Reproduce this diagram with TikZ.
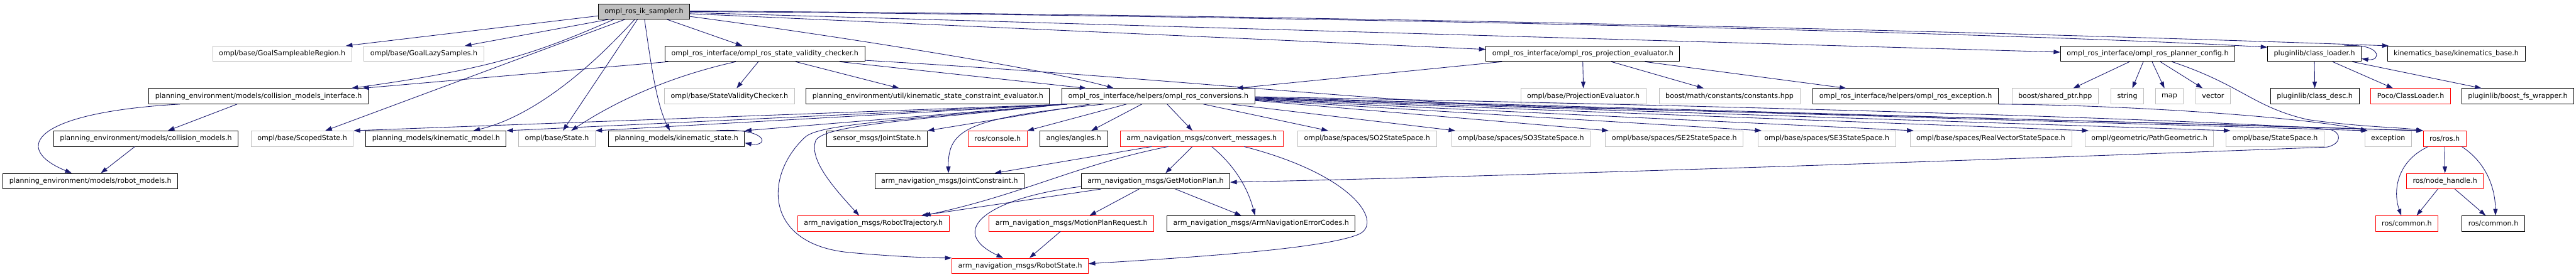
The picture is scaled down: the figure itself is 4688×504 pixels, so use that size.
\documentclass[tikz,border=0pt]{standalone}
\usepackage{fontspec}
\setmainfont{DejaVu Sans}
\usepackage{xcolor}
\usepackage{tikz}
\usetikzlibrary{arrows.meta}
\definecolor{edgeblue}{HTML}{191970}
\definecolor{grey75}{HTML}{BFBFBF}

\begin{document}
\begin{tikzpicture}[x=1pt,y=-1pt,font=\fontsize{12.7}{15}\selectfont,
    filebox/.style={draw,rectangle,minimum height=28pt,inner xsep=11.5pt,inner ysep=0pt,line width=1pt,text=black},
    docfile/.style={filebox,draw=black},
    extfile/.style={filebox,draw=grey75},
    cutfile/.style={filebox,draw=red},
    incl/.style={draw=edgeblue,line width=1pt,-{Triangle[length=12pt,width=8pt]}}]
    \useasboundingbox (0,0) rectangle (4688,504);

    \node[docfile,fill=grey75] (ik) at (1172,21) {ompl\_ros\_ik\_sampler.h};

    \node[extfile] (gsr) at (513.5,98) {ompl/base/GoalSampleableRegion.h};
    \node[extfile] (gls) at (771.5,98) {ompl/base/GoalLazySamples.h};
    \node[docfile] (svc) at (1392,98) {ompl\_ros\_interface/ompl\_ros\_state\_validity\_checker.h};
    \node[docfile] (proj) at (2880.5,98) {ompl\_ros\_interface/ompl\_ros\_projection\_evaluator.h};
    \node[docfile] (planner) at (3908.5,98) {ompl\_ros\_interface/ompl\_ros\_planner\_config.h};
    \node[docfile] (cloader) at (4212,98) {pluginlib/class\_loader.h};
    \node[docfile] (kbase) at (4470,98) {kinematics\_base/kinematics\_base.h};

    \node[docfile] (cmi) at (470.5,175.3) {planning\_environment/models/collision\_models\_interface.h};
    \node[extfile] (svcheck) at (1327.5,175.3) {ompl/base/StateValidityChecker.h};
    \node[docfile] (kscev) at (1688.5,175.3) {planning\_environment/util/kinematic\_state\_constraint\_evaluator.h};
    \node[docfile] (conv) at (2108,175.3) {ompl\_ros\_interface/helpers/ompl\_ros\_conversions.h};
    \node[extfile] (projeval) at (2881.5,175.3) {ompl/base/ProjectionEvaluator.h};
    \node[extfile] (bmath) at (3147.5,175.3) {boost/math/constants/constants.hpp};
    \node[docfile] (rosexc) at (3468,175.3) {ompl\_ros\_interface/helpers/ompl\_ros\_exception.h};
    \node[extfile] (sptr) at (3740,175.3) {boost/shared\_ptr.hpp};
    \node[extfile] (stringh) at (3871.5,175.3) {string};
    \node[extfile] (maph) at (3948,175.3) {map};
    \node[extfile] (vectorh) at (4027.5,175.3) {vector};
    \node[docfile] (cdesc) at (4212.5,175.3) {pluginlib/class\_desc.h};
    \node[cutfile] (poco) at (4387,175.3) {Poco/ClassLoader.h};
    \node[docfile] (bfs) at (4582,175.3) {pluginlib/boost\_fs\_wrapper.h};

    \node[docfile] (cmodels) at (265.5,252.6) {planning\_environment/models/collision\_models.h};
    \node[extfile] (scoped) at (550,252.6) {ompl/base/ScopedState.h};
    \node[docfile] (kmodel) at (793.5,252.6) {planning\_models/kinematic\_model.h};
    \node[extfile] (state) at (1013.5,252.6) {ompl/base/State.h};
    \node[docfile] (kstate) at (1231,252.6) {planning\_models/kinematic\_state.h};
    \node[docfile] (jstate) at (1596,252.6) {sensor\_msgs/JointState.h};
    \node[cutfile] (console) at (1815.5,252.6) {ros/console.h};
    \node[docfile] (angles) at (1954,252.6) {angles/angles.h};
    \node[cutfile] (convmsg) at (2187,252.6) {arm\_navigation\_msgs/convert\_messages.h};
    \node[extfile] (so2) at (2488,252.6) {ompl/base/spaces/SO2StateSpace.h};
    \node[extfile] (so3) at (2768,252.6) {ompl/base/spaces/SO3StateSpace.h};
    \node[extfile] (se2) at (3047,252.6) {ompl/base/spaces/SE2StateSpace.h};
    \node[extfile] (se3) at (3324.5,252.6) {ompl/base/spaces/SE3StateSpace.h};
    \node[extfile] (realvec) at (3623,252.6) {ompl/base/spaces/RealVectorStateSpace.h};
    \node[extfile] (pathgeo) at (3911.5,252.6) {ompl/geometric/PathGeometric.h};
    \node[extfile] (sspace) at (4140.5,252.6) {ompl/base/StateSpace.h};
    \node[extfile] (exc) at (4346,252.6) {exception};
    \node[cutfile] (rosh) at (4449,252.6) {ros/ros.h};

    \node[docfile] (robmodels) at (164.5,330) {planning\_environment/models/robot\_models.h};
    \node[docfile] (jconstr) at (1728,330) {arm\_navigation\_msgs/JointConstraint.h};
    \node[docfile] (getmp) at (2103,330) {arm\_navigation\_msgs/GetMotionPlan.h};
    \node[cutfile] (nodeh) at (4449.5,330) {ros/node\_handle.h};

    \node[cutfile] (rtraj) at (1589.5,407.2) {arm\_navigation\_msgs/RobotTrajectory.h};
    \node[cutfile] (mpreq) at (1950,407.2) {arm\_navigation\_msgs/MotionPlanRequest.h};
    \node[docfile] (errcodes) at (2295,407.2) {arm\_navigation\_msgs/ArmNavigationErrorCodes.h};
    \node[cutfile] (common1) at (4380,407.2) {ros/common.h};
    \node[docfile] (common2) at (4537.5,407.2) {ros/common.h};

    \node[cutfile] (rstate) at (1856.5,484.5) {arm\_navigation\_msgs/RobotState.h};

    \draw[incl] ([yshift=-8pt]ik.west) -- ([xshift=-11pt]gsr.north east);
    \draw[incl] ([xshift=-65pt]ik.south) -- ([xshift=-35pt]gls.north east);
    \draw[incl] ([xshift=-55pt]ik.south) .. controls (980,95) and (900,125) .. ([xshift=-31pt]cmi.north east);
    \draw[incl] ([xshift=-35pt]ik.south) -- ([xshift=42pt]scoped.north);
    \draw[incl] ([xshift=-17pt]ik.south) .. controls (1060,140) and (960,215) .. ([xshift=68pt]kmodel.north);
    \draw[incl] ([xshift=-12pt]ik.south) -- ([xshift=11pt]state.north);
    \draw[incl] ([xshift=1pt]ik.south) .. controls (1185,120) and (1195,190) .. ([xshift=-12pt]kstate.north);
    \draw[incl] ([xshift=42pt]ik.south) -- ([xshift=-41pt]svc.north);
    \draw[incl] ([yshift=-9pt]ik.east) .. controls (1500,62) and (1900,125) .. ([xshift=-81pt]conv.north);
    \draw[incl] ([yshift=-4pt]ik.east) -- ([yshift=8pt]proj.west);
    \draw[incl] ([yshift=-2pt]ik.east) -- ([yshift=3pt]planner.west);
    \draw[incl] (ik.east) .. controls (2500,30) and (3700,62) .. ([yshift=12pt]cloader.west);
    \draw[incl] ([yshift=1pt]ik.east) .. controls (2500,28) and (3700,60) .. ([xshift=3pt]kbase.north west);

    \draw[incl] ([xshift=-176pt]svc.south) -- ([xshift=-11pt]cmi.north east);
    \draw[incl] ([xshift=-53pt]svc.south) .. controls (1260,130) and (1150,165) .. ([xshift=26pt]state.north);
    \draw[incl] ([xshift=-12pt]svc.south) -- ([xshift=13pt]svcheck.north);
    \draw[incl] ([xshift=56pt]svc.south) -- ([xshift=-52pt]kscev.north);
    \draw[incl] ([xshift=136pt]svc.south) -- ([xshift=-131pt]conv.north);
    \draw[incl] ([yshift=-12pt]svc.east) .. controls (2100,140) and (2500,185) .. (2800,195)
        .. controls (3500,212) and (4100,228) .. (rosh.north west);

    \draw[incl] ([xshift=-147pt]proj.south) -- ([xshift=142pt]conv.north);
    \draw[incl] (proj.south) -- (projeval.north);
    \draw[incl] ([xshift=52pt]proj.south) -- ([xshift=-47pt]bmath.north);
    \draw[incl] ([xshift=113pt]proj.south) -- ([xshift=-108pt]rosexc.north);

    \draw[incl] ([xshift=-33pt]planner.south) -- ([xshift=33pt]sptr.north);
    \draw[incl] ([xshift=-8pt]planner.south) -- ([xshift=9pt]stringh.north);
    \draw[incl] ([xshift=8pt]planner.south) -- ([xshift=-9pt]maph.north);
    \draw[incl] ([xshift=23pt]planner.south) -- ([xshift=-19pt]vectorh.north);
    \draw[incl] ([xshift=44pt]planner.south) .. controls (4080,155) and (4100,195) .. (4200,218)
        .. controls (4300,232) and (4370,232) .. (rosh.north west);

    \draw[incl] ([xshift=54pt]cloader.north) .. controls (4335,78) and (4335,112) .. ([yshift=-9pt]cloader.east);
    \draw[incl] (cloader.south) -- (cdesc.north);
    \draw[incl] ([xshift=33pt]cloader.south) -- ([xshift=-32pt]poco.north);
    \draw[incl] ([xshift=69pt]cloader.south) -- ([xshift=-66pt]bfs.north);

    \draw[incl] ([xshift=-39pt]cmi.south) -- ([xshift=40pt]cmodels.north);
    \draw[incl] ([xshift=-143pt]cmi.south) .. controls (60,205) and (20,270) .. ([xshift=-34pt]robmodels.north);
    \draw[incl] ([xshift=-20pt]cmodels.south) -- ([xshift=19pt]robmodels.north);

    \foreach \t in {scoped,kmodel,state,kstate}
        \draw[incl] ([xshift=10pt]conv.south west) -- (\t.north east);
    \draw[incl] ([xshift=-124pt]conv.south) -- (jstate.north east);
    \draw[incl] ([xshift=-99pt]conv.south) .. controls (1760,215) and (1725,235) .. ([xshift=-2pt]jconstr.north);
    \draw[incl] ([xshift=-58pt]conv.south) -- (console.north east);
    \draw[incl] ([xshift=-30pt]conv.south) -- ([xshift=32pt]angles.north);
    \draw[incl] ([xshift=16pt]conv.south) -- ([xshift=-17pt]convmsg.north);
    \draw[incl] ([xshift=82pt]conv.south) -- ([xshift=-71pt]so2.north);
    \draw[incl] ([xshift=132pt]conv.south) -- ([xshift=7pt]so3.north west);
    \foreach \t/\dy/\dx in {se2/-8/6,se3/-7/7,realvec/-6/7,pathgeo/-5/7,sspace/-4/8,exc/-3/6,rosh/-2/0}
        \draw[incl] ([yshift=\dy pt]conv.east) -- ([xshift=\dx pt]\t.north west);
    \draw[incl] ([yshift=-1pt]conv.east) .. controls (3300,195) and (4100,222) .. (4240,236)
        .. controls (4262,241) and (4262,262) .. (4235,268)
        .. controls (3800,285) and (2800,320) .. ([yshift=-2pt]getmp.east);
    \draw[incl] ([xshift=4pt]conv.south west) .. controls (1600,222) and (1490,228) .. (1465,250)
        .. controls (1390,320) and (1390,445) .. (1545,460)
        .. controls (1620,467) and (1690,470) .. (rstate.north west);
    \draw[incl] ([xshift=6pt]conv.south west) .. controls (1650,220) and (1505,228) .. (1485,255)
        .. controls (1470,290) and (1520,345) .. ([xshift=-26pt]rtraj.north);

    \draw[incl] ([xshift=72pt]kstate.north) .. controls (1400,232) and (1400,268) .. ([yshift=-8pt]kstate.east);

    \draw[incl] ([xshift=-91pt]convmsg.south) -- ([xshift=82pt]jconstr.north);
    \draw[incl] ([xshift=-61pt]convmsg.south) .. controls (1960,300) and (1860,355) .. ([xshift=92pt]rtraj.north);
    \draw[incl] ([xshift=-17pt]convmsg.south) -- ([xshift=18pt]getmp.north);
    \draw[incl] ([xshift=18pt]convmsg.south) .. controls (2245,300) and (2270,340) .. ([xshift=-11pt]errcodes.north);
    \draw[incl] ([xshift=77pt]convmsg.south) .. controls (2470,320) and (2520,410) .. (2470,428)
        .. controls (2400,455) and (2150,470) .. ([yshift=4pt]rstate.east);

    \draw[incl] ([yshift=-10pt]getmp.west) .. controls (1800,360) and (1720,420) .. ([xshift=-31pt]rstate.north);
    \draw[incl] ([xshift=-99pt]getmp.south) -- ([xshift=87pt]rtraj.north);
    \draw[incl] ([xshift=-30pt]getmp.south) -- ([xshift=33pt]mpreq.north);
    \draw[incl] ([xshift=36pt]getmp.south) -- ([xshift=-36pt]errcodes.north);
    \draw[incl] ([xshift=-20pt]mpreq.south) -- ([xshift=17pt]rstate.north);

    \draw[incl] (rosexc.south east) .. controls (3900,192) and (4200,215) .. ([xshift=5pt]exc.north west);

    \draw[incl] ([xshift=-30pt]rosh.south) .. controls (4360,295) and (4355,350) .. ([xshift=-10pt]common1.north);
    \draw[incl] (rosh.south) -- (nodeh.north);
    \draw[incl] ([xshift=31pt]rosh.south) .. controls (4530,300) and (4541,350) .. ([xshift=4pt]common2.north);
    \draw[incl] ([xshift=-13pt]nodeh.south) -- ([xshift=18pt]common1.north);
    \draw[incl] ([xshift=18pt]nodeh.south) -- ([xshift=-14pt]common2.north);
\end{tikzpicture}
\end{document}
